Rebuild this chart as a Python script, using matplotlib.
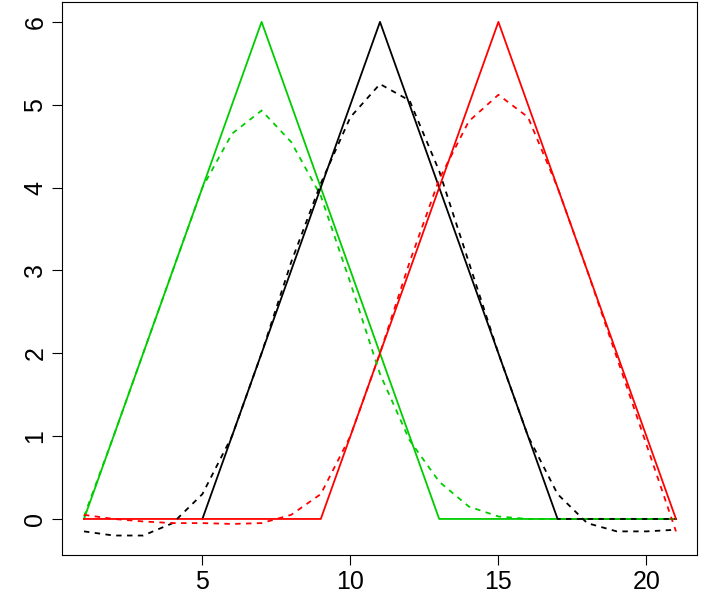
import matplotlib
matplotlib.use("Agg")
import matplotlib.pyplot as plt

plt.rcParams["font.family"] = ["Liberation Sans", "DejaVu Sans"]

x = list(range(1, 22))
green_tri_x = [1, 7, 13, 21]
green_tri_y = [0, 6, 0, 0]
black_tri_x = [5, 11, 17, 21]
black_tri_y = [0, 6, 0, 0]
red_tri_x = [1, 9, 15, 21]
red_tri_y = [0, 0, 6, 0]

green_fit = [0.03, 1.0, 2.0, 3.0, 4.0, 4.65, 4.93, 4.55, 3.9, 2.85, 1.75,
             0.95, 0.45, 0.15, 0.03, 0, 0, 0, 0, 0, 0]
black_fit = [-0.15, -0.2, -0.2, -0.05, 0.3, 1.0, 2.0, 3.1, 4.05, 4.85, 5.25,
             5.05, 4.2, 3.1, 2.0, 1.0, 0.3, -0.05, -0.15, -0.15, -0.13]
red_fit = [0.05, 0.0, -0.03, -0.05, -0.05, -0.06, -0.05, 0.05, 0.3, 1.0, 2.0,
           3.1, 4.1, 4.8, 5.12, 4.85, 4.0, 3.0, 1.95, 0.9, -0.15]

fig = plt.figure(figsize=(7.01, 6.08), dpi=100)
ax = fig.add_axes([62 / 701, 53 / 608, 635 / 701, 553 / 608])

ax.plot(green_tri_x, green_tri_y, color="#00cd00", lw=1.3)
ax.plot(black_tri_x, black_tri_y, color="black", lw=1.3)
ax.plot(red_tri_x, red_tri_y, color="red", lw=1.3)
ax.plot(x, green_fit, color="#00cd00", lw=1.3, ls=(0, (3, 3)))
ax.plot(x, black_fit, color="black", lw=1.3, ls=(0, (3, 3)))
ax.plot(x, red_fit, color="red", lw=1.3, ls=(0, (3, 3)))

ax.set_xlim(0.257, 21.71)
ax.set_ylim(-0.435, 6.24)
ax.set_xticks([5, 10, 15, 20])
ax.set_yticks(range(0, 7))
ax.tick_params(labelsize=18, length=7)
for lbl in ax.get_yticklabels():
    lbl.set_rotation(90)
    lbl.set_va("center")

fig.savefig("out.png", dpi=100)
